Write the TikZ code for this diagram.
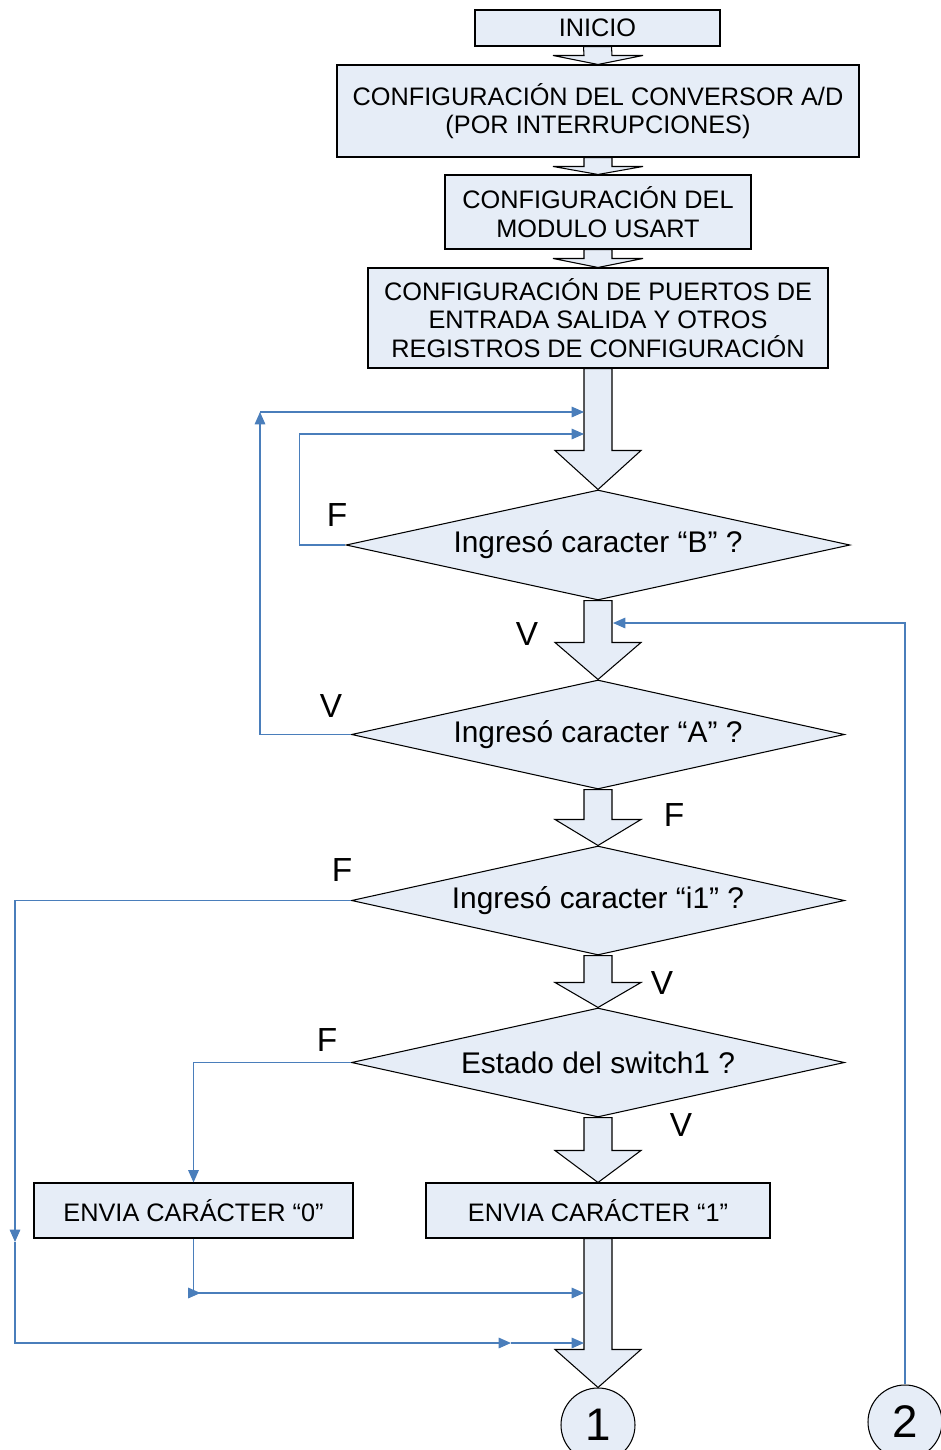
\documentclass[tikz,border=0pt]{standalone}
\usepackage{fontspec}
\setmainfont{Liberation Sans}
\usetikzlibrary{shapes.geometric,arrows.meta,calc,backgrounds}

\definecolor{boxfill}{RGB}{230,237,247}
\definecolor{flowblue}{RGB}{74,126,187}

\tikzset{
  sz/.style 2 args={minimum width=#1*0.02cm, minimum height=#2*0.02cm},
  box/.style={draw=black, fill=boxfill, line width=0.6pt, inner sep=0pt,
    align=center, font=\fontsize{14.4}{16.3}\selectfont},
  decision/.style={diamond, aspect=5, draw=black, fill=boxfill, line width=0.6pt,
    inner sep=0pt, font=\fontsize{17}{19}\selectfont},
  connector/.style={circle, draw=black, fill=boxfill, line width=0.6pt, inner sep=0pt,
    minimum size=74*0.02cm, font=\fontsize{26}{30}\selectfont},
  branch/.style={inner sep=0pt, font=\fontsize{19}{22}\selectfont},
  blockarrow/.style={draw=black, fill=boxfill, line width=0.6pt, line join=miter},
  wire/.style={draw=flowblue, line width=0.7pt},
  flow/.style={wire, -{Triangle[length=7pt,width=6pt]}},
}

% hollow block arrow from the bottom of #1 to the top of #2;
% #3 = head length, #4 = half width of the head (shaft half width 14)
\newcommand{\blockarr}[4]{%
  \draw[blockarrow] ($(#1.south)+(-14,0)$) -- ($(#2.north)+(-14,-#3)$)
    -- ($(#2.north)+(-#4,-#3)$) -- (#2.north) -- ($(#2.north)+(#4,-#3)$)
    -- ($(#2.north)+(14,-#3)$) -- ($(#1.south)+(14,0)$) -- cycle;
}

\begin{document}
\begin{tikzpicture}[x=0.02cm, y=-0.02cm]
\useasboundingbox (0,0) rectangle (940,1450);

% process steps
\node[box, sz={245}{36}] (start) at (597.5,28) {INICIO};
\node[box, sz={522}{92}] (cfgad) at (598,111)
  {CONFIGURACIÓN DEL CONVERSOR A/D\\(POR INTERRUPCIONES)};
\node[box, sz={306}{74}] (usart) at (598,212)
  {CONFIGURACIÓN DEL\\MODULO USART};
\node[box, sz={460}{100}] (ports) at (598,318)
  {CONFIGURACIÓN DE PUERTOS DE\\ENTRADA SALIDA Y OTROS\\REGISTROS DE CONFIGURACIÓN};

% decisions
\node[decision, sz={504}{110}] (askB) at (598,545) {Ingresó caracter “B” ?};
\node[decision, sz={493}{109}] (askA) at (598,734.5) {Ingresó caracter “A” ?};
\node[decision, sz={493}{109}] (askI) at (598,900.5) {Ingresó caracter “i1” ?};
\node[decision, sz={493}{109}] (sw) at (598,1062.5) {Estado del switch1 ?};

% outputs
\node[box, sz={319}{55}] (send0) at (193.5,1210.5) {ENVIA CARÁCTER “0”};
\node[box, sz={344}{55}] (send1) at (598,1210.5) {ENVIA CARÁCTER “1”};

% off-page connectors
\node[connector] (c1) at (598,1425) {1};
\node[connector] (c2) at (905,1422) {2};

% main flow (hollow block arrows)
\begin{pgfonlayer}{background}
\blockarr{start}{cfgad}{9}{45}
\blockarr{cfgad}{usart}{8}{45}
\blockarr{usart}{ports}{9}{45}
\blockarr{ports}{askB}{39}{43}
\blockarr{askB}{askA}{37}{43}
\blockarr{askA}{askI}{26}{43}
\blockarr{askI}{sw}{25}{43}
\blockarr{sw}{send1}{32}{43}
\blockarr{send1}{c1}{38}{43}
\end{pgfonlayer}

% branch labels
\node[branch] (fB) at (337,515) {F};
\node[branch] (vB) at (527,634) {V};
\node[branch] (vA) at (331,706) {V};
\node[branch] (fA) at (674,815) {F};
\node[branch] (fI) at (342,870) {F};
\node[branch] (vI) at (662,983) {V};
\node[branch] (fS) at (327,1040) {F};
\node[branch] (vS) at (681,1125) {V};

% entry points on the main shaft
\coordinate (inB1) at (584,412);
\coordinate (inB2) at (584,434);
\coordinate (inA) at (613,623);
\coordinate (inEnd0) at (584,1293);
\coordinate (inEnd1) at (584,1343);
\coordinate (upA) at (260,412);
\coordinate (downI) at (15,1242);
\coordinate (midI) at (511,1343);
\coordinate (turn0) at (193.5,1293);

% loops back to the "B" test
\draw[flow] (askB.west) -- ++(-46,0) |- (inB2);
\draw[flow] (askA.west) -| (upA);
\draw[flow] (upA) -- (inB1);

% return from connector 2
\draw[flow] (c2.north) |- (inA);

% "i1" not received: skip to the end
\draw[flow] (askI.west) -| (downI);
\draw[flow] (downI) |- (midI);
\draw[flow] (midI) -- (inEnd1);

% switch off: send "0"
\draw[flow] (sw.west) -| (send0.north);
\draw[flow] (send0.south) |- (inEnd0);
\draw[flow] (turn0) -- ++(7,0);

\end{tikzpicture}
\end{document}
